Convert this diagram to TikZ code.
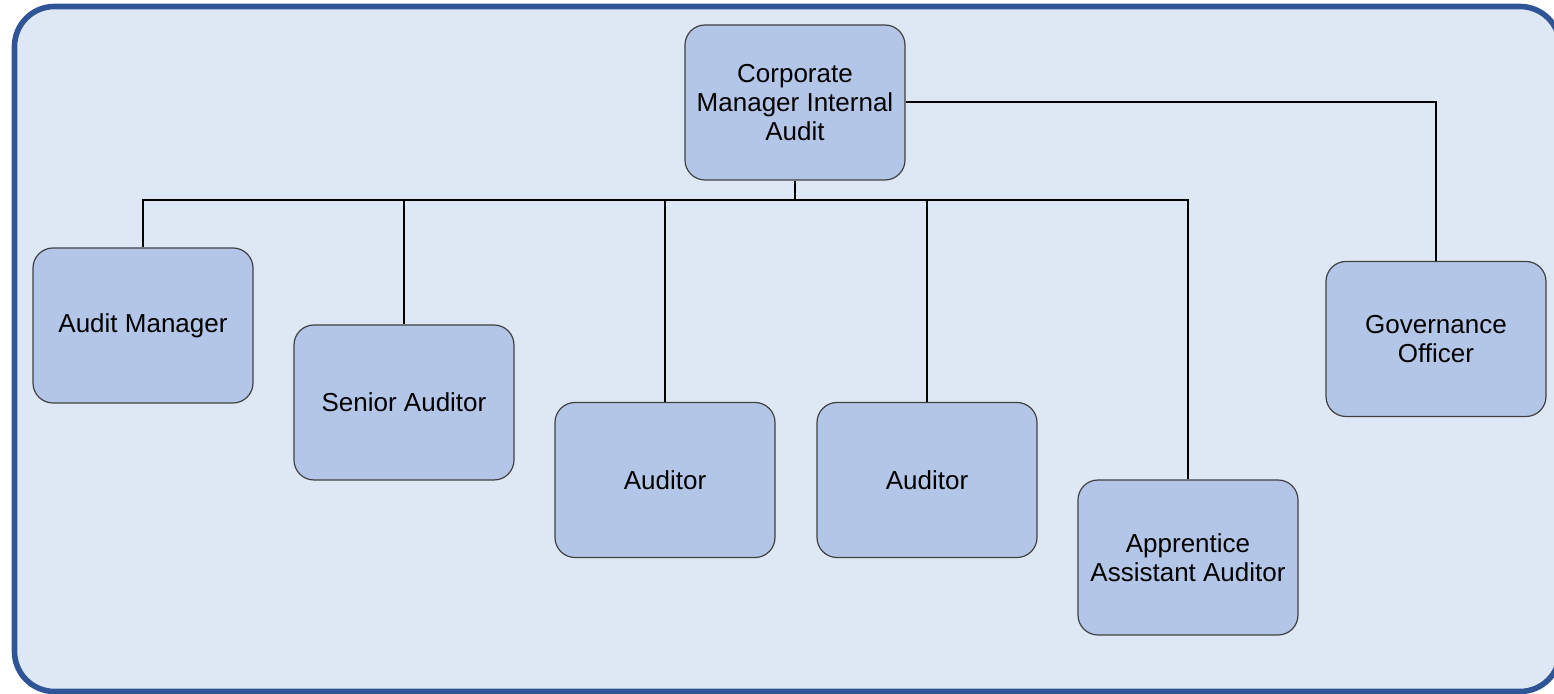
\documentclass[tikz,border=0pt]{standalone}
\usepackage{fontspec}
\setmainfont{Liberation Sans}
\definecolor{panelfill}{HTML}{DEE8F4}
\definecolor{panelline}{HTML}{2F5597}
\definecolor{boxfill}{HTML}{B4C6E7}
\definecolor{boxline}{HTML}{404040}

\begin{document}
\begin{tikzpicture}[x=0.5pt, y=-0.5pt]
  \tikzset{
    post/.style={draw=boxline, line width=0.6pt, fill=boxfill, rounded corners=10pt,
      minimum width=110pt, minimum height=77.5pt, align=center,
      font=\fontsize{13}{14.5}\selectfont},
    link/.style={draw=black, line width=1pt}
  }
  \useasboundingbox (0,0) rectangle (1554,694);
  \begin{scope}
    \clip (0,0) rectangle (1554,694);
    \draw[panelline, line width=2.8pt, fill=panelfill, rounded corners=20pt]
      (14.5,6.5) rectangle (1560,691.5);
  \end{scope}

  % head of the unit
  \node[post] (head) at (795,102.5) {Corporate\\Manager Internal\\Audit};

  % staff
  \node[post] (mgr)   at (143,325.5)  {Audit Manager};
  \node[post] (senior) at (404,402.5) {Senior Auditor};
  \node[post] (audA)  at (665,480)    {Auditor};
  \node[post] (audB)  at (927,480)    {Auditor};
  \node[post] (appr)  at (1188,557.5) {Apprentice\\Assistant Auditor};
  \node[post] (gov)   at (1436,339)   {Governance\\Officer};

  % bus line
  \coordinate (bus) at (795,200);
  \draw[link] (head.south) -- (bus);
  \draw[link] (mgr.north) |- (bus) -| (appr.north);
  \foreach \n in {senior, audA, audB}
    \draw[link] (\n.north) -- (\n.north |- bus);
  \draw[link] (head.east) -| (gov.north);
\end{tikzpicture}
\end{document}
